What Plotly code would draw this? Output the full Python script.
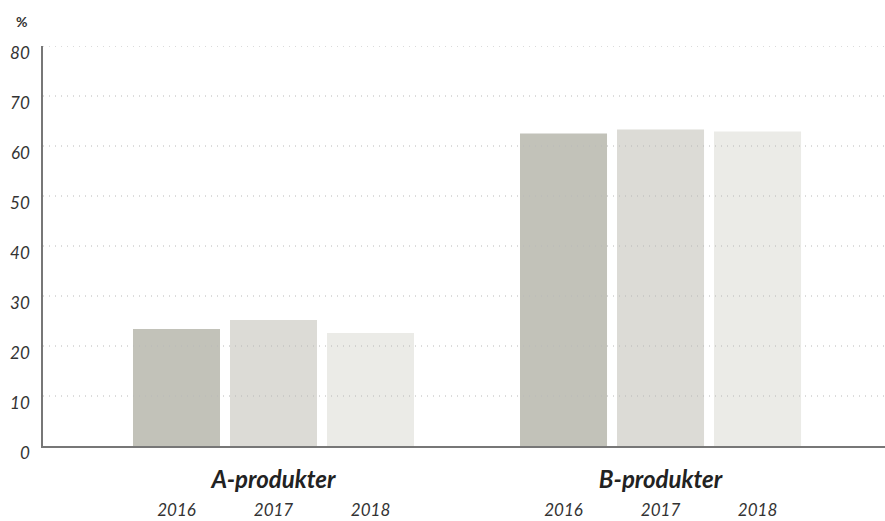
import plotly.graph_objects as go

groups = ["A-produkter", "B-produkter"]
years = ["2016", "2017", "2018"]
values = {
    "2016": [23.4, 62.5],
    "2017": [25.2, 63.3],
    "2018": [22.6, 62.9],
}
colors = {"2016": "#c2c2b9", "2017": "#dcdbd6", "2018": "#ebebe7"}
y_ticks = [0, 10, 20, 30, 40, 50, 60, 70, 80]

bargap = 0.248
slot = (1 - bargap) / len(years)
xs = list(range(len(groups)))

fig = go.Figure()
for yr in years:
    fig.add_trace(go.Bar(x=xs, y=values[yr], name=yr, marker_color=colors[yr],
                         marker_line_width=0, showlegend=False, hoverinfo="skip"))

# year label positions derived from group index and bar slot
year_pos, year_txt = [], []
for g in xs:
    for i, yr in enumerate(years):
        year_pos.append(g + (i - (len(years) - 1) / 2) * slot)
        year_txt.append(yr)

xrange = [-0.5956, 1.58]

# dotted gridlines drawn above the bars
for t in y_ticks[1:]:
    fig.add_shape(type="line", xref="paper", yref="y", x0=0, x1=1, y0=t, y1=t,
                  line=dict(color="#b8b8b8", width=1, dash="1px,5px"), layer="above")

fig.add_annotation(text="<b>%</b>", xref="paper", yref="paper", x=-0.026, y=1.057,
                   xanchor="center", yanchor="middle",
                   showarrow=False, font=dict(family="Lato", size=14, color="#333"))

fig.update_layout(
    width=885, height=521,
    margin=dict(l=43, r=0, t=46, b=40, autoexpand=False),
    plot_bgcolor="white", paper_bgcolor="white",
    barmode="group", bargap=bargap, bargroupgap=0.103,
    xaxis=dict(range=xrange, tickvals=xs,
               ticktext=["<b>%s</b>" % g for g in groups],
               tickfont=dict(family="Lato", size=24, color="#222", style="italic"),
               showline=True, linecolor="#777", linewidth=1.5, showgrid=False,
               zeroline=False, ticks="outside", ticklen=11, automargin=False,
               tickcolor="rgba(0,0,0,0)", layer="above traces"),
    xaxis2=dict(range=xrange, overlaying="x", anchor="free", position=0, side="bottom",
                tickvals=year_pos, ticktext=year_txt, automargin=False,
                tickfont=dict(family="Lato", size=17, color="#333", style="italic"),
                showline=False, showgrid=False, zeroline=False,
                ticks="outside", ticklen=14, tickcolor="rgba(0,0,0,0)"),
    yaxis=dict(domain=[35 / 435, 1], range=[0, 80], tickvals=y_ticks, automargin=False,
               tickfont=dict(family="Lato", size=17, color="#333", style="italic"),
               showline=True, linecolor="#777", linewidth=1.5, showgrid=False,
               zeroline=False, ticks="outside", ticklen=8,
               tickcolor="rgba(0,0,0,0)", ticklabelshift=7, layer="above traces"),
)
# invisible trace so xaxis2 is drawn
fig.add_trace(go.Scatter(x=[xrange[0]], y=[0], xaxis="x2", mode="markers",
                         marker=dict(opacity=0), showlegend=False, hoverinfo="skip"))

fig.write_html("out.html", config={"displayModeBar": False},
               post_script="document.body.style.margin='0';document.body.style.overflow='hidden';")
